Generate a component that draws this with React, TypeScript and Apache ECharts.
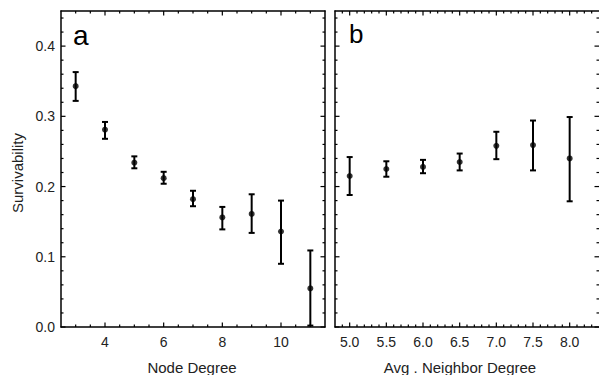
import React, { useEffect, useRef } from "react";
import * as echarts from "echarts";

const degree = [3, 4, 5, 6, 7, 8, 9, 10, 11];
const degreeMean = [0.343, 0.281, 0.234, 0.212, 0.182, 0.156, 0.161, 0.136, 0.055];
const degreeLow = [0.322, 0.268, 0.226, 0.204, 0.172, 0.139, 0.134, 0.09, 0.002];
const degreeHigh = [0.363, 0.292, 0.243, 0.221, 0.194, 0.171, 0.189, 0.18, 0.109];

const neighbor = [5.0, 5.5, 6.0, 6.5, 7.0, 7.5, 8.0];
const neighborMean = [0.215, 0.225, 0.228, 0.235, 0.258, 0.259, 0.24];
const neighborLow = [0.188, 0.214, 0.219, 0.223, 0.239, 0.223, 0.179];
const neighborHigh = [0.242, 0.236, 0.238, 0.247, 0.278, 0.294, 0.299];

// tick positions (major ticks carry the labels)
const degreeTicks = [4, 6, 8, 10];
const degreeMinorStep = 0.5;
const neighborTicks = [5.0, 5.5, 6.0, 6.5, 7.0, 7.5, 8.0];
const neighborMinorStep = 0.1;
const yTicks = [0.0, 0.1, 0.2, 0.3, 0.4];
const yMinorStep = 0.02;

const DEG_MIN = 2.5, DEG_MAX = 11.5;
const NB_MIN = 4.8, NB_MAX = 8.4;
const Y_MIN = 0, Y_MAX = 0.45;

const FONT = "'Liberation Sans', Arial, sans-serif";
const TXT = "#222";
const MAJOR_LEN = 4.5;
const MINOR_LEN = 2.5;

function minorList(min: number, max: number, step: number, majors: number[]) {
  const out: number[] = [];
  const n = Math.round((max - min) / step);
  for (let i = 1; i < n; i++) {
    const v = Math.round((min + i * step) * 1000) / 1000;
    if (!majors.some((m) => Math.abs(m - v) < 1e-6)) out.push(v);
  }
  return out;
}

function tickData(majors: number[], minors: number[]) {
  return [...majors.map((v) => [v, MAJOR_LEN]), ...minors.map((v) => [v, MINOR_LEN])];
}

const TICK_STYLE = { stroke: "#000", lineWidth: 1.2 };

function xTickSeries(axisIdx: number, yMin: number, yMax: number, ticks: number[][]) {
  return {
    type: "custom",
    xAxisIndex: axisIdx,
    yAxisIndex: axisIdx,
    clip: false,
    silent: true,
    z: 5,
    encode: { x: 0, y: 1 },
    data: ticks.map((t) => [t[0], yMin, t[1]]),
    renderItem: (params: any, api: any) => {
      const v = api.value(0);
      const L = api.value(2);
      const b = api.coord([v, yMin]);
      const t = api.coord([v, yMax]);
      return {
        type: "group",
        children: [
          { type: "line", shape: { x1: b[0], y1: b[1] - L, x2: b[0], y2: b[1] }, style: { ...TICK_STYLE } },
          { type: "line", shape: { x1: t[0], y1: t[1], x2: t[0], y2: t[1] + L }, style: { ...TICK_STYLE } },
        ],
      };
    },
  };
}

function yTickSeries(axisIdx: number, xMin: number, xMax: number, ticks: number[][]) {
  return {
    type: "custom",
    xAxisIndex: axisIdx,
    yAxisIndex: axisIdx,
    clip: false,
    silent: true,
    z: 5,
    encode: { x: 0, y: 1 },
    data: ticks.map((t) => [xMin, t[0], t[1]]),
    renderItem: (params: any, api: any) => {
      const v = api.value(1);
      const L = api.value(2);
      const l = api.coord([xMin, v]);
      const r = api.coord([xMax, v]);
      return {
        type: "group",
        children: [
          { type: "line", shape: { x1: l[0], y1: l[1], x2: l[0] + L, y2: l[1] }, style: { ...TICK_STYLE } },
          { type: "line", shape: { x1: r[0] - L, y1: r[1], x2: r[0], y2: r[1] }, style: { ...TICK_STYLE } },
        ],
      };
    },
  };
}

function xAx(grid: number, pos: string, min: number, max: number, major: number, labels: boolean, digits: number, line = true) {
  return {
    type: "value",
    gridIndex: grid,
    position: pos,
    min,
    max,
    minInterval: major,
    maxInterval: major,
    splitNumber: 5,
    axisLine: { show: line, onZero: false, lineStyle: { color: "#000", width: 1.5 } },
    splitLine: { show: false },
    axisTick: { show: false },
    axisLabel: labels
      ? {
          show: true,
          fontSize: 14,
          fontFamily: FONT,
          color: TXT,
          margin: 8,
          showMinLabel: false,
          showMaxLabel: false,
          formatter: (v: number) => v.toFixed(digits),
        }
      : { show: false },
  };
}

function yAx(grid: number, pos: string, labels: boolean, line = true) {
  return {
    type: "value",
    gridIndex: grid,
    position: pos,
    min: Y_MIN,
    max: Y_MAX,
    interval: 0.1,
    axisLine: { show: line, onZero: false, lineStyle: { color: "#000", width: 1.5 } },
    splitLine: { show: false },
    axisTick: { show: false },
    axisLabel: labels
      ? {
          show: true,
          fontSize: 14,
          fontFamily: FONT,
          color: TXT,
          margin: 6,
          showMaxLabel: false,
          formatter: (v: number) => v.toFixed(1),
        }
      : { show: false },
  };
}

function errRender(params: any, api: any) {
  const x = api.value(0);
  const lo = api.value(1);
  const hi = api.value(2);
  const pHi = api.coord([x, hi]);
  const pLo = api.coord([x, lo]);
  const cap = 3;
  const st = { stroke: "#000", lineWidth: 2 };
  return {
    type: "group",
    children: [
      { type: "line", shape: { x1: pHi[0], y1: pHi[1], x2: pLo[0], y2: pLo[1] }, style: st },
      { type: "line", shape: { x1: pHi[0] - cap, y1: pHi[1], x2: pHi[0] + cap, y2: pHi[1] }, style: st },
      { type: "line", shape: { x1: pLo[0] - cap, y1: pLo[1], x2: pLo[0] + cap, y2: pLo[1] }, style: st },
    ],
  };
}

export default function App() {
  const ref = useRef<HTMLDivElement>(null);
  useEffect(() => {
    if (!ref.current) return;
    const chart = echarts.init(ref.current, null, { renderer: "svg" });
    const degXTicks = tickData(degreeTicks, minorList(DEG_MIN, DEG_MAX, degreeMinorStep, degreeTicks));
    const nbXTicks = tickData(neighborTicks, minorList(NB_MIN, NB_MAX, neighborMinorStep, neighborTicks));
    const yAllTicks = tickData(yTicks, minorList(Y_MIN, Y_MAX, yMinorStep, yTicks));
    chart.setOption({
      animation: false,
      backgroundColor: "#fff",
      grid: [
        { show: false, containLabel: false, left: 61, top: 11, width: 264, height: 316 },
        { show: false, containLabel: false, left: 335, top: 11, width: 265, height: 316 },
      ],
      xAxis: [
        xAx(0, "bottom", DEG_MIN, DEG_MAX, 2, true, 0),
        xAx(1, "bottom", NB_MIN, NB_MAX, 0.5, true, 1),
        xAx(0, "top", DEG_MIN, DEG_MAX, 2, false, 0),
        xAx(1, "top", NB_MIN, NB_MAX, 0.5, false, 1),
      ],
      yAxis: [
        yAx(0, "left", true),
        yAx(1, "left", false),
        yAx(0, "right", false),
        yAx(1, "right", false, false),
      ],
      series: [
        xTickSeries(0, Y_MIN, Y_MAX, degXTicks),
        yTickSeries(0, DEG_MIN, DEG_MAX, yAllTicks),
        xTickSeries(1, Y_MIN, Y_MAX, nbXTicks),
        yTickSeries(1, NB_MIN, NB_MAX, yAllTicks),
        {
          type: "custom",
          xAxisIndex: 0,
          yAxisIndex: 0,
          renderItem: errRender,
          encode: { x: 0, y: [1, 2] },
          data: degree.map((d, i) => [d, degreeLow[i], degreeHigh[i]]),
          z: 2,
        },
        {
          type: "scatter",
          xAxisIndex: 0,
          yAxisIndex: 0,
          symbolSize: 6,
          itemStyle: { color: "#000" },
          data: degree.map((d, i) => [d, degreeMean[i]]),
          z: 3,
        },
        {
          type: "custom",
          xAxisIndex: 1,
          yAxisIndex: 1,
          renderItem: errRender,
          encode: { x: 0, y: [1, 2] },
          data: neighbor.map((d, i) => [d, neighborLow[i], neighborHigh[i]]),
          z: 2,
        },
        {
          type: "scatter",
          xAxisIndex: 1,
          yAxisIndex: 1,
          symbolSize: 6,
          itemStyle: { color: "#000" },
          data: neighbor.map((d, i) => [d, neighborMean[i]]),
          z: 3,
        },
      ],
      graphic: [
        {
          type: "text",
          x: 73,
          y: 35,
          style: { text: "a", fontSize: 28, fontFamily: FONT, fill: "#000", textAlign: "left", textVerticalAlign: "middle" },
        },
        {
          type: "text",
          x: 349,
          y: 34,
          style: { text: "b", fontSize: 26, fontFamily: FONT, fill: "#000", textAlign: "left", textVerticalAlign: "middle" },
        },
        {
          type: "text",
          x: 17,
          y: 173,
          rotation: Math.PI / 2,
          style: { text: "Survivability", fontSize: 15, fontFamily: FONT, fill: TXT, textAlign: "center", textVerticalAlign: "middle" },
        },
        {
          type: "text",
          x: 192,
          y: 367,
          style: { text: "Node Degree", fontSize: 15, fontFamily: FONT, fill: TXT, textAlign: "center", textVerticalAlign: "middle" },
        },
        {
          type: "text",
          x: 460,
          y: 367,
          style: { text: "Avg . Neighbor Degree", fontSize: 15, fontFamily: FONT, fill: TXT, textAlign: "center", textVerticalAlign: "middle" },
        },
      ],
    });
    return () => chart.dispose();
  }, []);
  return <div ref={ref} style={{ position: "fixed", left: 0, top: 0, width: 599, height: 375 }} />;
}
